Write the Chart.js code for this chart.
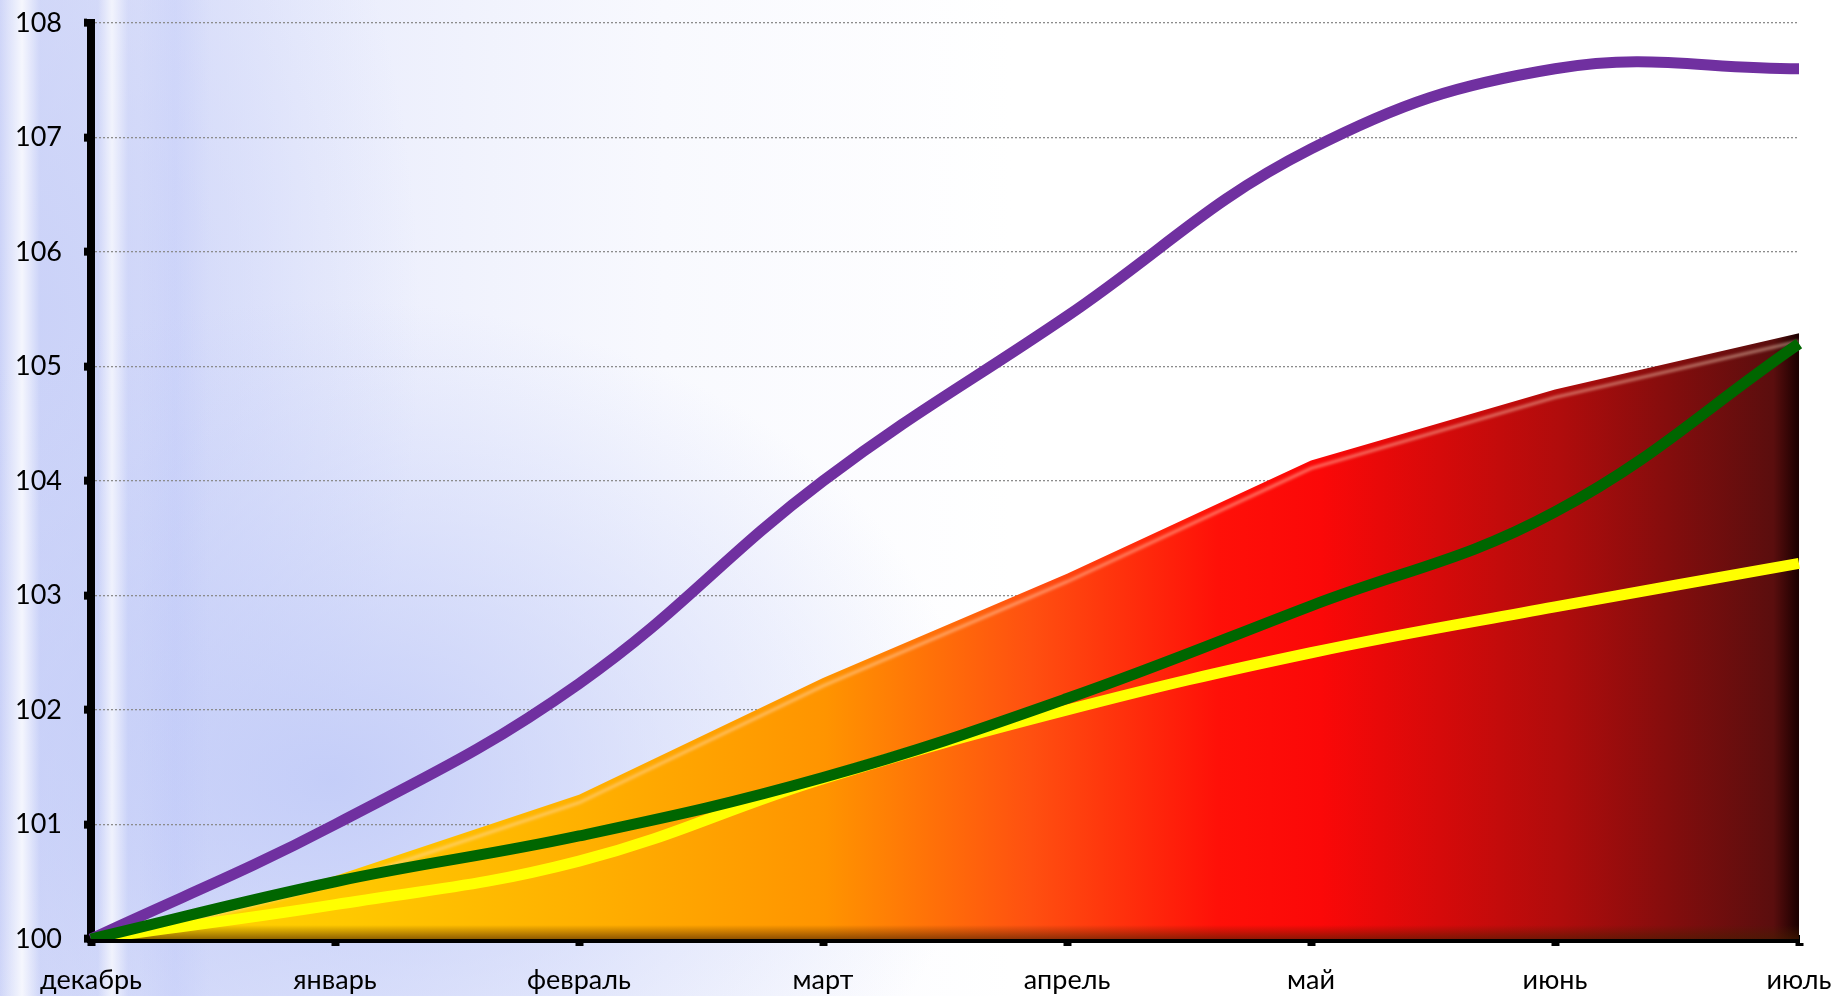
<!DOCTYPE html>
<html>
<head>
<meta charset="utf-8">
<script src="https://cdn.jsdelivr.net/npm/chart.js@4/dist/chart.umd.min.js"></script>
<style>
    html, body {
        margin: 0;
        padding: 0;
        width: 1839px;
        height: 996px;
        overflow: hidden;
    }
    body {
        background:
            linear-gradient(to right, rgba(255,255,255,0) 0px, rgba(255,255,255,0.8) 22px, rgba(255,255,255,0) 40px),
            linear-gradient(to right, rgba(255,255,255,0) 98px, rgba(255,255,255,0.7) 112px, rgba(255,255,255,0) 128px),
            linear-gradient(to right, rgba(185,195,250,0) 140px, rgba(185,195,250,0.25) 175px, rgba(185,195,250,0) 210px),
            radial-gradient(ellipse 650px 480px at 330px 780px, rgba(192,202,248,0.9), rgba(192,202,248,0) 100%),
            radial-gradient(ellipse 380px 700px at 40px 320px, rgba(200,208,248,0.85), rgba(200,208,248,0) 100%),
            linear-gradient(to right, #d6dbf8 0%, #e9ecfc 16%, #f8f9fe 36%, #ffffff 55%);
    }
    #chart-box {
        position: absolute;
        left: 0;
        top: 0;
        width: 1839px;
        height: 996px;
    }
</style>
</head>
<body>
<div id="chart-box"><canvas id="index-canvas"></canvas></div>
<script>
const months = ["декабрь", "январь", "февраль", "март", "апрель", "май", "июнь", "июль"];

const purpleSeries = [100, 101.0, 102.23, 104.0, 105.44, 106.9, 107.6, 107.6];
const greenSeries = [100, 100.5, 100.9, 101.41, 102.1, 102.91, 103.73, 105.2];
const yellowSeries = [100, 100.3, 100.68, 101.4, 102.0, 102.5, 102.9, 103.28];
const areaSeries = [100, 100.55, 101.26, 102.28, 103.19, 104.18, 104.8, 105.29];

const yMin = 100;
const yMax = 108;

const fontFamily = "Lato, 'Open Sans', sans-serif";

function areaGradient(context) {
    const chart = context.chart;
    const area = chart.chartArea;
    if (!area) {
        return "#ff3000";
    }
    const g = chart.ctx.createLinearGradient(area.left, 0, area.right, 0);
    g.addColorStop(0.0, "#ffd800");
    g.addColorStop(0.15, "#ffc800");
    g.addColorStop(0.29, "#ffb000");
    g.addColorStop(0.43, "#ff9400");
    g.addColorStop(0.55, "#ff5010");
    g.addColorStop(0.66, "#ff1008");
    g.addColorStop(0.72, "#fb0808");
    g.addColorStop(0.86, "#b00c0c");
    g.addColorStop(0.985, "#5a0e0e");
    g.addColorStop(1.0, "#1a0000");
    return g;
}

// bevel look of the filled area: light stripe under the top edge and a dark band at the bottom
const bevelPlugin = {
    id: "bevel",
    afterDatasetDraw(chart, args) {
        if (args.index !== 3) return;
        const pts = args.meta.data;
        const ctx = chart.ctx;
        const area = chart.chartArea;
        const bottom = area.bottom;

        ctx.save();
        ctx.beginPath();
        ctx.moveTo(pts[0].x, pts[0].y);
        for (const p of pts) ctx.lineTo(p.x, p.y);
        ctx.lineTo(pts[pts.length - 1].x, bottom);
        ctx.lineTo(pts[0].x, bottom);
        ctx.closePath();
        ctx.clip();

        ctx.beginPath();
        pts.forEach((p, i) => i ? ctx.lineTo(p.x, p.y + 8) : ctx.moveTo(p.x, p.y + 8));
        ctx.strokeStyle = "rgba(255,225,200,0.5)";
        ctx.lineWidth = 3;
        ctx.filter = "blur(1.5px)";
        ctx.stroke();
        ctx.filter = "none";

        const shade = ctx.createLinearGradient(0, bottom - 14, 0, bottom);
        shade.addColorStop(0, "rgba(70,30,0,0)");
        shade.addColorStop(1, "rgba(70,30,0,0.6)");
        ctx.fillStyle = shade;
        ctx.fillRect(area.left, bottom - 14, area.width, 14);
        ctx.restore();
    }
};

const ctx = document.getElementById("index-canvas");

const indexChart = new Chart(ctx, {
    type: "line",
    data: {
        labels: months,
        datasets: [
            {
                data: greenSeries,
                borderColor: "#006600",
                borderWidth: 11,
                tension: 0.4,
                pointRadius: 0,
                fill: false
            },
            {
                data: purpleSeries,
                borderColor: "#7030a0",
                borderWidth: 11,
                tension: 0.4,
                pointRadius: 0,
                fill: false
            },
            {
                data: yellowSeries,
                borderColor: "#ffff00",
                borderWidth: 11,
                tension: 0.4,
                pointRadius: 0,
                fill: false
            },
            {
                data: areaSeries,
                borderColor: "rgba(0,0,0,0)",
                borderWidth: 1,
                backgroundColor: areaGradient,
                tension: 0,
                pointRadius: 0,
                fill: "start"
            }
        ]
    },
    options: {
        responsive: true,
        maintainAspectRatio: false,
        animation: false,
        layout: {
            padding: { top: 23, right: 40, left: 0, bottom: 0 }
        },
        plugins: {
            legend: { display: false },
            tooltip: { enabled: false }
        },
        scales: {
            x: {
                grid: {
                    drawOnChartArea: false,
                    drawTicks: true,
                    tickLength: 7,
                    tickWidth: 8,
                    tickColor: "#000"
                },
                border: {
                    color: "#000",
                    width: 8
                },
                ticks: {
                    color: "#000",
                    padding: 18,
                    maxRotation: 0,
                    autoSkip: false,
                    font: { family: fontFamily, size: 27 }
                },
                afterFit(scale) {
                    scale.height = 57;
                    scale.paddingLeft = 0;
                    scale.paddingRight = 0;
                }
            },
            y: {
                min: yMin,
                max: yMax,
                grid: {
                    color: "#8c8c8c",
                    lineWidth: 1.3,
                    drawTicks: true,
                    tickLength: 7,
                    tickWidth: 8,
                    tickColor: "#000"
                },
                border: {
                    color: "#000",
                    width: 8,
                    dash: [2, 2]
                },
                ticks: {
                    stepSize: 1,
                    color: "#000",
                    padding: 22,
                    font: { family: fontFamily, size: 27 }
                },
                afterFit(scale) {
                    scale.width = 91;
                    scale.paddingTop = 0;
                    scale.paddingBottom = 0;
                }
            }
        }
    },
    plugins: [bevelPlugin]
});
</script>
</body>
</html>
